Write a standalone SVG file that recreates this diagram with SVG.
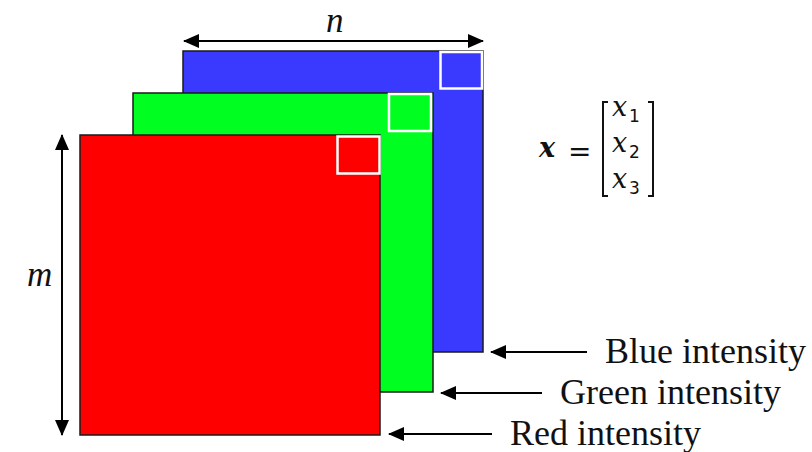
<svg xmlns="http://www.w3.org/2000/svg" width="812" height="452" viewBox="0 0 812 452">
<style>
.ch{stroke:#1a1a1a;stroke-width:1.5}
.px{fill:none;stroke:#ffffff;stroke-width:2.5}
.ln{stroke:#000;stroke-width:2;fill:none}
.lbl{font-family:"Liberation Serif",serif;font-size:36px;fill:#111}
.dim{font-family:"Liberation Serif",serif;font-style:italic;font-size:35px;fill:#111}
.mx{font-family:"DejaVu Serif",serif;font-style:italic;font-size:27px;fill:#111}
.sub{font-family:"DejaVu Sans",sans-serif;font-size:17px;fill:#111}
</style>
<defs>
<marker id="ah" viewBox="0 0 16 14" refX="15" refY="7" markerWidth="16" markerHeight="14" markerUnits="userSpaceOnUse" orient="auto-start-reverse">
<path d="M0,0 L16,7 L0,14 Z" fill="#000"/>
</marker>
</defs>
<rect width="812" height="452" fill="#fff"/>
<g id="blue">
<rect class="ch" x="183" y="51" width="300" height="301" fill="#3a3aff"/>
<rect class="px" x="440.5" y="52" width="41.5" height="36.5"/>
</g>
<g id="green">
<rect class="ch" x="133" y="93" width="300" height="299" fill="#00ff21"/>
<rect class="px" x="389" y="94" width="42" height="37"/>
</g>
<g id="red">
<rect class="ch" x="80" y="135" width="300" height="300" fill="#ff0000"/>
<rect class="px" x="337.5" y="136.5" width="42" height="37"/>
</g>
<g id="connectors">
<line class="ln" x1="184" y1="41" x2="483" y2="41" marker-start="url(#ah)" marker-end="url(#ah)"/>
<line class="ln" x1="62" y1="135" x2="62" y2="435" marker-start="url(#ah)" marker-end="url(#ah)"/>
<line class="ln" x1="587" y1="352" x2="491" y2="352" marker-end="url(#ah)"/>
<line class="ln" x1="542" y1="393" x2="441" y2="393" marker-end="url(#ah)"/>
<line class="ln" x1="492" y1="434" x2="389" y2="434" marker-end="url(#ah)"/>
</g>
<g id="labels">
<text class="dim" x="326" y="32">n</text>
<text class="dim" x="27" y="286">m</text>
<text class="lbl" x="605" y="363">Blue intensity</text>
<text class="lbl" x="560" y="404">Green intensity</text>
<text class="lbl" x="510" y="445">Red intensity</text>
</g>
<g id="vector">
<text class="mx" x="539" y="157" font-weight="bold">x</text>
<text x="568" y="161" font-family="DejaVu Sans,sans-serif" font-size="28" fill="#111">=</text>
<path d="M608,102 L603,102 L603,196 L608,196" fill="none" stroke="#111" stroke-width="2"/>
<path d="M648,102 L653,102 L653,196 L648,196" fill="none" stroke="#111" stroke-width="2"/>
<text class="mx" x="612" y="116">x</text><text class="sub" x="629" y="122">1</text>
<text class="mx" x="612" y="152">x</text><text class="sub" x="629" y="158">2</text>
<text class="mx" x="612" y="188">x</text><text class="sub" x="629" y="194">3</text>
</g>
</svg>
